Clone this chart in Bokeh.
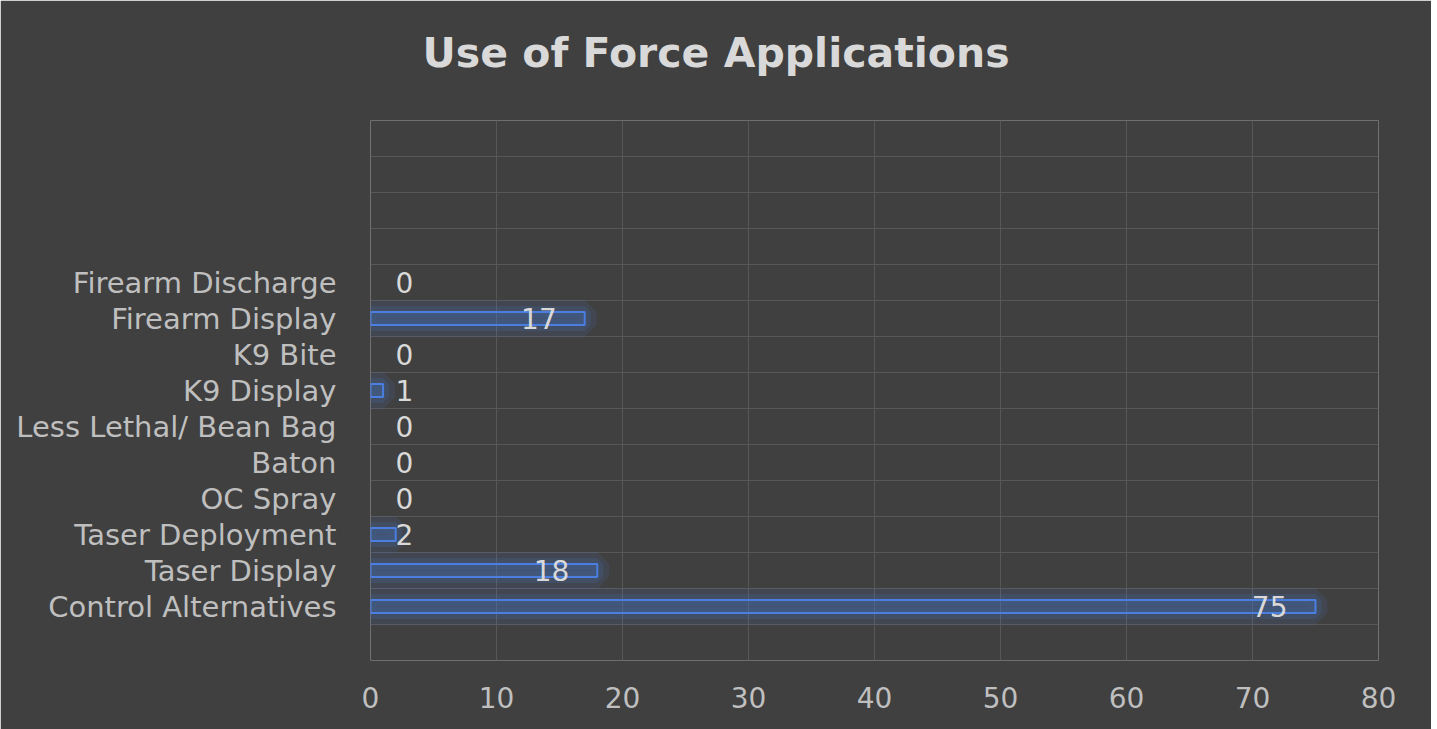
from bokeh.plotting import figure
from bokeh.models import FixedTicker, ColumnDataSource, Title
from bokeh.core.properties import value
from bokeh.embed import file_html
from bokeh.resources import INLINE

# ---- data (bottom to top, as drawn) ----
categories = ["", "Control Alternatives", "Taser Display", "Taser Deployment", "OC Spray",
              "Baton", "Less Lethal/ Bean Bag", "K9 Display", "K9 Bite", "Firearm Display",
              "Firearm Discharge", "", "", "", ""]
counts = [None, 75, 18, 2, 0, 0, 0, 1, 0, 17, 0, None, None, None, None]
x_ticks = [0, 10, 20, 30, 40, 50, 60, 70, 80]
title_text = "Use of Force Applications"

FONT = "DejaVu Sans"
BG = "#404040"
BLUE = "#4a7ee0"

ys, vals = [], []
for i, v in enumerate(counts):
    if v is not None:
        ys.append(i + 0.5)
        vals.append(v)
bars = ColumnDataSource(dict(y=[y for y, v in zip(ys, vals) if v > 0],
                             v=[v for v in vals if v > 0]))

big = ColumnDataSource(dict(y=[y for y, v in zip(ys, vals) if v >= 5],
                            v=[v for v in vals if v >= 5],
                            lab=[str(v) for v in vals if v >= 5]))
small = ColumnDataSource(dict(y=[y for y, v in zip(ys, vals) if v < 5],
                              v=[0 for v in vals if v < 5],
                              lab=[str(v) for v in vals if v < 5]))

p = figure(output_backend="svg", toolbar_location=None,
           x_range=(0, 80), y_range=(0, len(categories)),
           frame_width=1008, frame_height=540,
           min_border_left=370, min_border_right=53,
           min_border_top=120, min_border_bottom=69,
           background_fill_color=BG, border_fill_color=BG,
           outline_line_color=None)

# title
p.title.text = title_text
p.title.text_font = FONT
p.title.text_font_style = "bold"
p.title.text_font_size = "41px"
p.title.text_color = "#d9d9d9"
p.title.align = "left"
p.title.offset = 52
p.title.standoff = 0
# blank spacer between title and plot area
p.add_layout(Title(text=" ", text_font_size="30px", standoff=9,
                   text_color=BG), "above")

# grid
p.xgrid.ticker = FixedTicker(ticks=x_ticks)
p.ygrid.ticker = FixedTicker(ticks=list(range(len(categories) + 1)))
p.xgrid.grid_line_color = "#575757"
p.ygrid.grid_line_color = "#575757"
p.xgrid.grid_line_width = 1
p.ygrid.grid_line_width = 1

# axes
p.xaxis.ticker = FixedTicker(ticks=x_ticks)
p.yaxis.ticker = FixedTicker(ticks=[i + 0.5 for i in range(len(categories))])
p.yaxis.major_label_overrides = {i + 0.5: c for i, c in enumerate(categories)}
for ax in (p.xaxis[0], p.yaxis[0]):
    ax.axis_line_color = None
    ax.major_tick_line_color = None
    ax.minor_tick_line_color = None
    ax.major_label_text_font = FONT
    ax.major_label_text_color = "#bfbfbf"
    ax.major_label_text_font_size = "28px"
p.yaxis.major_label_text_font_size = "29px"
p.yaxis.major_label_standoff = 28
p.xaxis.major_label_standoff = 20

# glow
p.hbar(y="y", left=0, right="v", height=0.36, source=bars,
       fill_color=None, line_color=BLUE, line_alpha=0.10, line_width=24)
p.hbar(y="y", left=0, right="v", height=0.36, source=bars,
       fill_color=None, line_color=BLUE, line_alpha=0.14, line_width=12)
# bars
p.hbar(y="y", left=0, right="v", height=0.36, source=bars,
       fill_color="#4472c4", fill_alpha=0.25, line_color=BLUE, line_width=2)

# value labels
p.text(x="v", y="y", text="lab", source=big, x_offset=-28,
       text_align="right", text_baseline="middle",
       text_font=value(FONT), text_font_size="28px", text_color="#d9d9d9")
p.text(x="v", y="y", text="lab", source=small, x_offset=25,
       text_align="left", text_baseline="middle",
       text_font=value(FONT), text_font_size="28px", text_color="#d9d9d9")

open("out.html", "w").write(file_html(p, INLINE))
